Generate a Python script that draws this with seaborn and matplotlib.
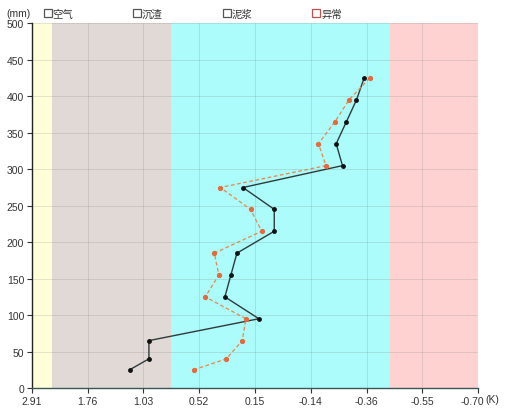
import numpy as np
import pandas as pd
import matplotlib
matplotlib.use("Agg")
import matplotlib.pyplot as plt
from matplotlib.lines import Line2D
from matplotlib.transforms import ScaledTranslation
import seaborn as sns

# Depth (mm) of each reading
depth = [425, 395, 365, 335, 305, 275, 245, 215, 185, 155, 125, 95, 65, 40, 25]
# Measured values (K)
measured = [-0.35, -0.32, -0.28, -0.24, -0.265, 0.23, 0.05, 0.05, 0.27, 0.31, 0.35, 0.13, 0.98, 0.98, 1.21]
# Anomaly values (K)
anomaly = [-0.37, -0.29, -0.235, -0.17, -0.20, 0.38, 0.18, 0.115, 0.42, 0.39, 0.48, 0.21, 0.235, 0.34, 0.57]

# Non-linear K axis: tick values placed at equal spacing
k_ticks = [2.91, 1.76, 1.03, 0.52, 0.15, -0.14, -0.36, -0.55, -0.70]
k_labels = ["2.91", "1.76", "1.03", "0.52", "0.15", "-0.14", "-0.36", "-0.55", "-0.70"]
y_ticks = [0, 50, 100, 150, 200, 250, 300, 350, 400, 450, 500]

# Medium zones (K boundaries)
zone_names = ["空气", "沉渣", "泥浆", "异常"]
zone_edges = [2.91, 2.50, 0.78, -0.44, -0.70]
zone_colors = ["#fffed9", "#e1d9d5", "#abfcfb", "#ffd2d2"]
zone_marks = ["#555555", "#555555", "#555555", "#c0504d"]

sns.set_theme(style="white")
plt.rcParams["font.family"] = ["Liberation Sans", "Noto Sans CJK SC", "DejaVu Sans"]

pos = np.arange(len(k_ticks), dtype=float)
k_inc = np.array(k_ticks[::-1])
pos_inc = pos[::-1]


def fwd(k):
    # increasing in k; the axis is inverted afterwards
    return -np.interp(k, k_inc, pos_inc)


def inv(p):
    return np.interp(-np.asarray(p), pos, np.array(k_ticks))


fig = plt.figure(figsize=(5.06, 4.14), dpi=100)
ax = fig.add_axes([0.063, 0.0604, 0.882, 0.8805])
ax.set_xscale("function", functions=(fwd, inv))
ax.set_xlim(k_ticks[0], k_ticks[-1])
ax.set_ylim(0, 500)

for i in range(len(zone_colors)):
    ax.axvspan(zone_edges[i], zone_edges[i + 1], color=zone_colors[i], lw=0, zorder=0)

for k in k_ticks[1:]:
    ax.axvline(k, color="#7a7a7a", lw=0.7, alpha=0.2, zorder=1)
for y in y_ticks[1:]:
    ax.axhline(y, color="#7a7a7a", lw=0.7, alpha=0.2, zorder=1)

df = pd.DataFrame({"depth": depth, "measured": measured, "anomaly": anomaly})
sns.lineplot(data=df, x="measured", y="depth", sort=False, estimator=None, ax=ax,
             color="#2f3b3b", lw=1.0, marker="o", markersize=2.7,
             markerfacecolor="#111111", markeredgecolor="#111111", zorder=3)
sns.lineplot(data=df, x="anomaly", y="depth", sort=False, estimator=None, ax=ax,
             color="#e8864e", lw=0.9, ls=(0, (3, 2)), marker="o", markersize=3.0,
             markerfacecolor="#e86a3a", markeredgecolor="#e86a3a", zorder=4)

ax.set_xticks(k_ticks)
ax.set_xticklabels(k_labels)
ax.set_yticks(y_ticks)
ax.set_xlabel("")
ax.set_ylabel("")
ax.tick_params(axis="both", labelsize=7.5, colors="#333333", length=3.5, width=0.8,
               direction="out", bottom=True, left=True, pad=2)
for s in ["top", "right"]:
    ax.spines[s].set_visible(False)
ax.spines["left"].set_color("#222222")
ax.spines["bottom"].set_color("#3c5555")
ax.spines["left"].set_linewidth(1.0)
ax.spines["bottom"].set_linewidth(1.0)

# nudge the last K label left so the unit fits after it
last = ax.get_xticklabels()[-1]
last.set_transform(last.get_transform() + ScaledTranslation(-6 / 100, 0, fig.dpi_scale_trans))

fig.text(0.012, 0.958, "(mm)", fontsize=7.5, color="#333333")
fig.text(485 / 506, 0.047, "(K)", ha="left", va="top", fontsize=7.5, color="#333333")

handles = [Line2D([], [], ls="none", marker="s", markersize=5.5,
                  markerfacecolor="white", markeredgecolor=c, markeredgewidth=0.9)
           for c in zone_marks]
fig.legend(handles, zone_names, loc="upper left", bbox_to_anchor=(0.074, 0.995),
           ncol=4, frameon=False, fontsize=7.5, handlelength=0.6, handletextpad=0.15,
           columnspacing=5.85, labelcolor="#333333", borderaxespad=0.3)

fig.savefig("out.png", dpi=100)
